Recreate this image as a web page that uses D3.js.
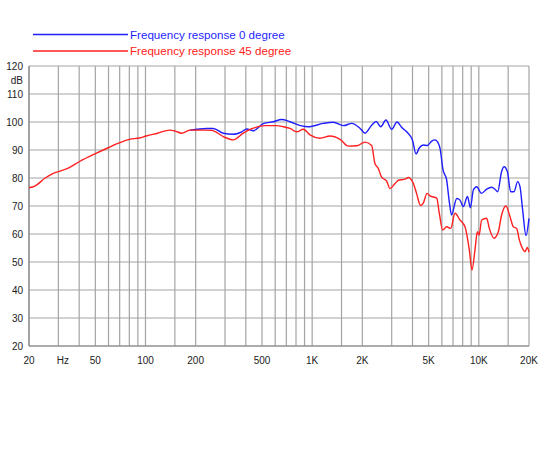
<!DOCTYPE html>
<html>
<head>
<meta charset="utf-8">
<script src="https://cdn.jsdelivr.net/npm/d3@7"></script>
<style>
	body { margin: 0; background: #fff; }
	text { font-family: "Liberation Sans", Arial, sans-serif; }
</style>
</head>
<body>
<div id="vis"></div>
<script>
const width = 550;
const height = 450;

// shared low end (both curves lie on top of each other, red drawn on top)
const lowFreq = [20, 21.7, 25, 27.4, 30, 34.4, 40, 50.5, 59.7, 70, 80, 92, 101, 118, 140, 150, 165, 180, 185];
const lowDb = [76.5, 77.1, 80, 81.4, 82.3, 83.5, 85.8, 88.8, 90.8, 92.6, 93.8, 94.3, 95, 96, 97.1, 96.8, 96, 96.9, 97.1];

// 0 degree
const freq0 = [185, 233, 255, 293, 336, 378, 405, 444, 509, 585, 656, 736, 865, 948, 1166, 1340, 1540, 1730, 1940, 2075,
	2280, 2420, 2580, 2770, 3000, 3230, 3450, 3690, 4000, 4200, 4400, 4640, 4890, 5240, 5460, 5710, 5850, 6100, 6410,
	6650, 6860, 7370, 7710, 8070, 8550, 8900, 9270, 9710, 10370, 11140, 11940, 12500, 12970, 13700, 14160, 14830,
	15530, 16260, 17100, 17660, 18320, 19190, 20000];
const db0 = [97.1, 97.7, 97.7, 96, 95.6, 96.5, 97.5, 96.9, 99.4, 100.1, 100.9, 100.1, 98.6, 98.3, 99.5, 99.9, 98.7, 99.5, 97.7, 96,
	98.9, 100.2, 98.3, 100.7, 97.4, 100, 98, 96.5, 93.5, 88.6, 90.8, 91.8, 91.6, 93.3, 93.6, 92.4, 90.6, 82.9, 79.3,
	71.5, 66.8, 72.7, 72.1, 69.8, 73.4, 69.4, 75.7, 76.9, 74.5, 76, 76.7, 76, 75.1, 82.3, 84, 82.3,
	75.1, 75.1, 78.7, 76.9, 68.6, 59.5, 65.6];

// 45 degree
const freq45 = [227, 250, 293, 336, 386, 414, 454, 521, 612, 671, 736, 807, 885, 970, 1114, 1280, 1470, 1650, 1850, 2075,
	2275, 2380, 2490, 2610, 2800, 2930, 3140, 3290, 3610, 3780, 4050, 4230, 4470, 4640, 4890, 5090, 5590, 5790, 6070,
	6410, 6780, 7190, 7710, 8260, 8770, 9100, 9480, 9800, 10030, 10400, 11140, 11560, 12330, 13090, 13700, 14560,
	15380, 16100, 16870, 17500, 18070, 18920, 19540, 20000];
const db45 = [97.1, 97, 94.8, 93.6, 96, 97.1, 98, 98.7, 98.7, 98.3, 97.7, 96.5, 97.4, 95.4, 94.2, 95, 93.8, 91.4, 91.5, 92.8,
	91.6, 85.2, 83.5, 80.3, 78.9, 76.2, 78, 79.2, 79.6, 80.2, 78, 74.5, 70.2, 71, 74.5, 73.6, 72.8, 67.5, 61.4,
	62.6, 62, 67.4, 65, 62.6, 54.3, 47.1, 54.3, 60.8, 59.6, 65, 65.6, 62, 58.5, 60.8, 66.8, 70,
	66.2, 62.6, 62, 57.9, 55.5, 53.7, 55.2, 53.5];

const gridFreqs = [20, 30, 40, 50, 60, 70, 80, 90, 100, 150, 200, 300, 400, 500, 600, 700, 800, 900, 1000,
	1500, 2000, 3000, 4000, 5000, 6000, 7000, 8000, 9000, 10000, 15000, 20000];
const xLabelFreqs = [20, 30, 50, 100, 200, 500, 1000, 2000, 5000, 10000, 20000];
const xLabels = ["20", "Hz", "50", "100", "200", "500", "1K", "2K", "5K", "10K", "20K"];
const yTicks = [20, 30, 40, 50, 60, 70, 80, 90, 100, 110, 120];

const series = [
	{ name: "Frequency response 0 degree", color: "#1f1fff", freq: freq0, db: db0 },
	{ name: "Frequency response 45 degree", color: "#ff2020", freq: lowFreq.concat(freq45), db: lowDb.concat(db45) }
];

const x = d3.scaleLog().domain([20, 20000]).range([29, 529]);
const y = d3.scaleLinear().domain([20, 120]).range([346, 66]);

const svg = d3.select("div#vis")
	.append("svg")
		.attr("width", width)
		.attr("height", height);

// grid
svg.append("g")
	.selectAll("line")
	.data(gridFreqs)
	.enter()
	.append("line")
		.attr("x1", d => x(d)).attr("x2", d => x(d))
		.attr("y1", y(120)).attr("y2", y(20))
		.attr("stroke", "#a4a4a4")
		.attr("stroke-width", 1.2);

svg.append("g")
	.selectAll("line")
	.data(yTicks)
	.enter()
	.append("line")
		.attr("x1", x(20)).attr("x2", x(20000))
		.attr("y1", d => y(d)).attr("y2", d => y(d))
		.attr("stroke", "#a4a4a4")
		.attr("stroke-width", 1.2);

// frame left / bottom
svg.append("line")
	.attr("x1", x(20)).attr("x2", x(20))
	.attr("y1", y(120)).attr("y2", y(20))
	.attr("stroke", "#888").attr("stroke-width", 1.2);
svg.append("line")
	.attr("x1", x(20)).attr("x2", x(20000))
	.attr("y1", y(20)).attr("y2", y(20))
	.attr("stroke", "#888").attr("stroke-width", 1.2);

// y labels
svg.append("g")
	.selectAll("text")
	.data(yTicks)
	.enter()
	.append("text")
		.attr("x", 23)
		.attr("y", d => y(d))
		.attr("dy", "0.35em")
		.attr("text-anchor", "end")
		.attr("font-size", 10)
		.attr("fill", "#222")
		.text(d => d);

svg.append("text")
	.attr("x", 23).attr("y", 80)
	.attr("dy", "0.35em")
	.attr("text-anchor", "end")
	.attr("font-size", 10)
	.attr("fill", "#222")
	.text("dB");

// x labels
svg.append("g")
	.selectAll("text")
	.data(xLabelFreqs)
	.enter()
	.append("text")
		.attr("x", (d, i) => x(d) + (xLabels[i] === "Hz" ? 4.5 : 0))
		.attr("y", 364)
		.attr("text-anchor", "middle")
		.attr("font-size", 10)
		.attr("fill", "#222")
		.text((d, i) => xLabels[i]);

// curves
const line = d3.line()
	.x(d => x(d[0]))
	.y(d => y(d[1]))
	.curve(d3.curveMonotoneX);

svg.append("g")
	.selectAll("path")
	.data(series)
	.enter()
	.append("path")
		.attr("d", s => line(s.freq.map((f, i) => [f, s.db[i]])))
		.attr("fill", "none")
		.attr("stroke", s => s.color)
		.attr("stroke-width", 1.4);

// legend
const legend = svg.append("g")
	.selectAll("g")
	.data(series)
	.enter()
	.append("g")
		.attr("transform", (d, i) => `translate(0, ${34.5 + i * 16.5})`);

legend.append("line")
	.attr("x1", 33).attr("x2", 128)
	.attr("stroke", d => d.color)
	.attr("stroke-width", 1.6);

legend.append("text")
	.attr("x", 130)
	.attr("dy", "0.35em")
	.attr("font-size", 11.6)
	.attr("fill", d => d.color)
	.text(d => d.name);
</script>
</body>
</html>
